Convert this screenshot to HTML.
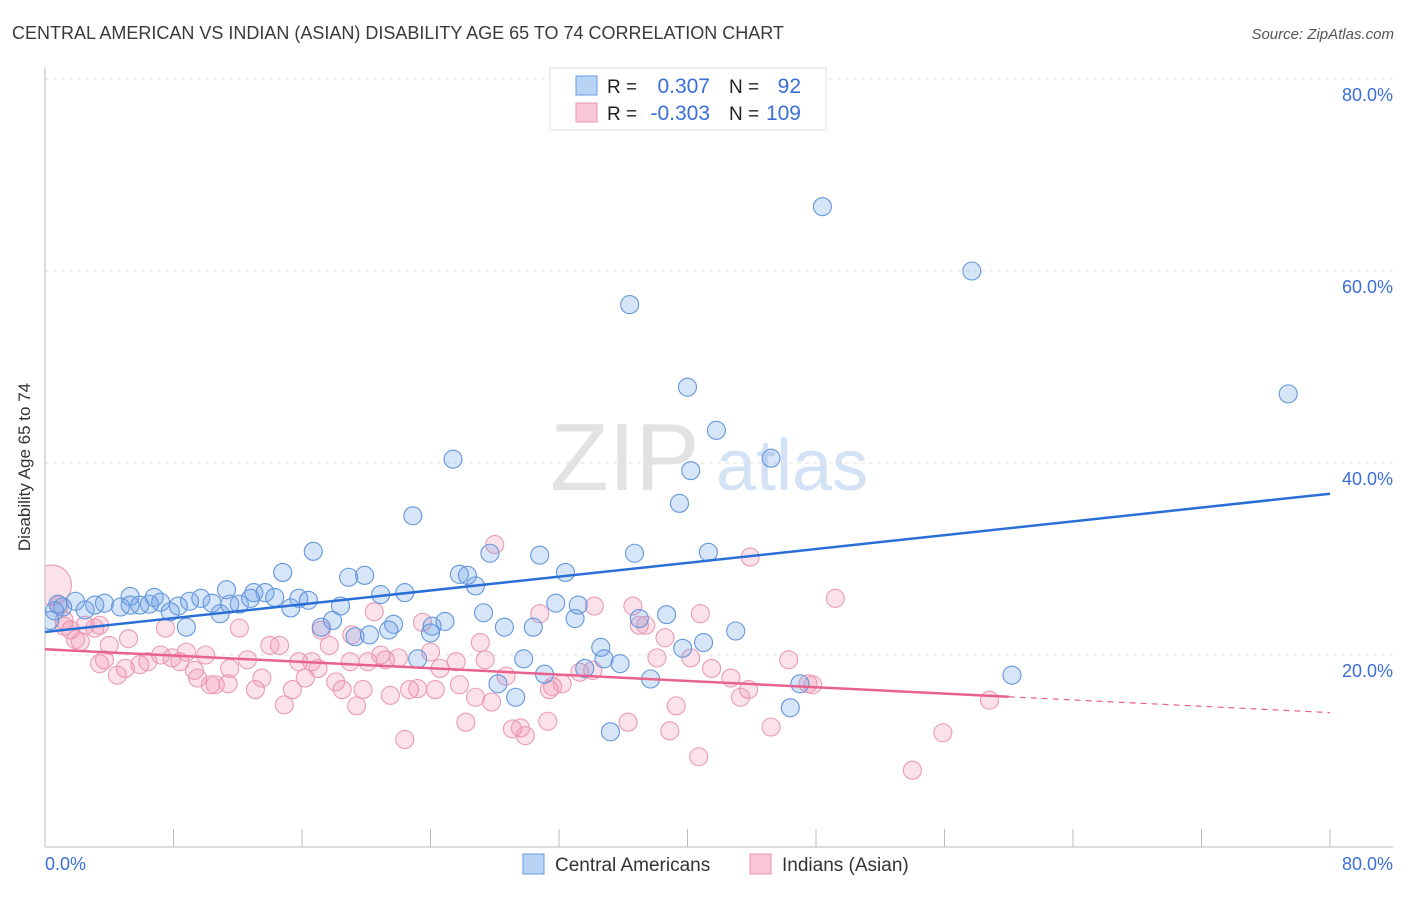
<!DOCTYPE html>
<html><head><meta charset="utf-8"><style>
body{margin:0;background:#fff;font-family:"Liberation Sans",sans-serif;}
svg text{font-family:"Liberation Sans",sans-serif;}
</style></head><body>
<svg id="chart" width="1406" height="892" xmlns="http://www.w3.org/2000/svg">
<defs><clipPath id="plotclip"><rect x="45" y="60" width="1360" height="787"/></clipPath></defs>
<text x="12" y="39" font-size="18" fill="#3a3a3a">CENTRAL AMERICAN VS INDIAN (ASIAN) DISABILITY AGE 65 TO 74 CORRELATION CHART</text>
<text x="1394" y="39" font-size="15" fill="#555" font-style="italic" text-anchor="end">Source: ZipAtlas.com</text>
<g>
<text x="550" y="490" font-size="96" fill="#e2e2e2" font-family="Liberation Serif">ZIP</text>
<text x="716" y="490" font-size="72" fill="#d3e2f4">atlas</text>
</g>
<g id="grid"></g>
<g id="axes"></g>
<g id="pts" clip-path="url(#plotclip)"></g>
<g id="trend"></g>
<text x="18" y="455" font-size="17" fill="#333" transform="rotate(-90 30 455)" text-anchor="middle">Disability Age 65 to 74</text>
<g>
<rect x="550" y="68" width="276" height="62" fill="#fff" stroke="#ddd"/>
<rect x="576" y="76" width="21" height="19" fill="#b9d3f5" stroke="#6a9be0"/>
<rect x="576" y="103" width="21" height="19" fill="#f8c6d5" stroke="#eb94b0"/>
<text x="607" y="93" font-size="19" fill="#222">R =</text><text x="710" y="93" font-size="21" fill="#3a6fd8" text-anchor="end">0.307</text>
<text x="729" y="93" font-size="19" fill="#222">N =</text><text x="801" y="93" font-size="21" fill="#3a6fd8" text-anchor="end">92</text>
<text x="607" y="120" font-size="19" fill="#222">R =</text><text x="710" y="120" font-size="21" fill="#3a6fd8" text-anchor="end">-0.303</text>
<text x="729" y="120" font-size="19" fill="#222">N =</text><text x="801" y="120" font-size="21" fill="#3a6fd8" text-anchor="end">109</text>
</g>
<g>
<rect x="523" y="854" width="21" height="20" fill="#b9d3f5" stroke="#6a9be0"/>
<text x="555" y="871" font-size="19" fill="#333">Central Americans</text>
<rect x="750" y="854" width="21" height="20" fill="#f8c6d5" stroke="#eb94b0"/>
<text x="782" y="871" font-size="19" fill="#333">Indians (Asian)</text>
</g>
</svg>
<script>
const xTicks=[0,8,16,24,32,40,48,56,64,72,80];
const yGrid=[20,40,60,80];
const yLabels=["20.0%","40.0%","60.0%","80.0%"];
const blueX=[48.4,57.7,36.4,77.4,40.0,41.8,25.4,45.2,40.2,39.5,22.9,16.7,27.7,30.8,36.7,41.3,14.8,18.9,19.9,25.8,26.3,26.8,32.4,22.4,20.9,5.3,6.8,11.3,13.0,13.7,14.3,9.7,7.2,9.0,3.7,1.9,0.8,2.5,4.7,5.9,8.3,10.4,12.1,15.8,16.4,18.4,15.3,31.8,33.2,27.3,33.0,38.7,37.0,7.8,10.9,8.8,17.9,17.2,21.7,19.3,20.2,21.4,24.9,24.1,24.0,28.6,30.4,43.0,34.6,41.0,39.7,23.2,29.8,34.8,35.8,33.6,31.1,37.7,60.2,47.0,28.2,29.3,46.4,35.2,0.6,0.3,1.1,3.1,5.3,12.8,11.5,6.5];
const blueY=[66.7,60.0,56.5,47.2,47.9,43.4,40.4,40.5,39.2,35.8,34.5,30.8,30.6,30.4,30.6,30.7,28.6,28.1,28.3,28.4,28.3,27.2,28.6,26.5,26.3,26.1,26.0,26.8,26.5,26.5,26.0,25.9,25.5,25.6,25.4,25.6,25.3,24.7,25.0,25.2,25.1,25.4,25.3,25.9,25.7,25.1,24.9,25.4,25.2,24.4,23.8,24.2,23.8,24.5,24.3,22.9,23.6,22.9,23.2,21.9,22.1,22.6,23.5,23.0,22.3,22.9,22.9,22.5,20.8,21.3,20.7,19.6,19.6,19.6,19.1,18.6,18.0,17.5,17.9,17.0,17.0,15.6,14.5,12.0,24.6,23.6,25.0,25.2,25.2,25.9,25.3,25.3];
const pinkX=[0.4,0.9,1.2,1.6,2.2,2.5,3.1,4.0,5.2,3.4,3.7,4.5,5.0,5.9,6.4,7.5,7.2,7.9,8.4,8.8,9.3,9.5,10.0,10.3,10.6,11.4,11.5,12.1,12.6,13.1,13.5,14.0,14.6,14.9,15.4,15.8,16.2,16.6,17.0,17.2,17.7,18.1,18.5,19.0,19.1,19.4,19.8,20.1,20.5,20.9,21.2,21.5,22.0,22.4,22.7,23.2,23.5,24.0,24.3,24.6,25.6,25.8,26.2,26.8,27.1,27.4,27.8,28.0,28.7,29.1,29.6,29.9,30.8,31.3,31.4,31.6,32.2,33.3,34.1,34.2,36.3,36.6,37.0,37.4,38.1,38.6,38.9,39.3,40.2,40.7,40.8,41.5,42.7,43.3,43.8,43.9,45.2,46.3,47.5,47.8,49.2,54.0,55.9,58.8,1.2,1.9,3.4];
const pinkY=[27.3,25.2,23.6,22.6,21.4,23.1,22.8,21.0,21.7,19.1,19.5,17.9,18.6,19.0,19.3,22.8,20.0,19.7,19.3,20.3,18.4,17.6,20.0,16.9,16.9,17.0,18.6,22.8,19.5,16.4,17.6,21.0,21.0,14.8,16.4,19.3,17.6,19.3,18.6,22.6,21.0,17.2,16.4,19.3,22.1,14.7,16.4,19.3,24.5,20.0,19.5,15.8,19.7,11.2,16.4,16.5,23.4,20.3,16.4,18.6,19.3,16.9,13.0,15.6,21.3,19.5,15.1,31.5,17.8,12.3,12.4,11.6,24.3,13.1,16.4,16.7,17.0,18.2,18.4,25.1,13.0,25.1,23.1,23.1,19.7,21.8,12.1,14.7,19.7,9.4,24.3,18.6,17.6,15.6,16.4,30.2,12.5,19.5,17.0,16.9,25.9,8.0,11.9,15.3,23.0,21.6,23.1];
const blueTrend=[22.4,36.8];
const pinkTrend=[20.6,14.0];
const pinkSolidEnd=60;

const X=v=>45+v/80*1285;
const Y=v=>847-v*9.6;
const NS="http://www.w3.org/2000/svg";
function mk(parent,tag,attrs){const e=document.createElementNS(NS,tag);for(const k in attrs)e.setAttribute(k,attrs[k]);parent.appendChild(e);return e;}
const grid=document.getElementById('grid'),axes=document.getElementById('axes'),pts=document.getElementById('pts'),trend=document.getElementById('trend');
yGrid.forEach((g,i)=>{
  const l=mk(grid,'line',{x1:45,x2:1393,y1:Y(g),y2:Y(g),stroke:'#e2e2e2','stroke-dasharray':'4,4'});
  
  
  const t=mk(axes,'text',{x:1393,y:Y(g)+22,'font-size':18,fill:'#3a6fd8','text-anchor':'end'});
  t.textContent=yLabels[i];
  
  
});
const al=mk(axes,'line',{x1:45,x2:45,y1:68,y2:847,stroke:'#bbb'});


const bl=mk(axes,'line',{x1:45,x2:1393,y1:847,y2:847,stroke:'#bbb'});


xTicks.forEach(v=>{
  const t=mk(axes,'line',{x1:X(v),x2:X(v),y1:829,y2:847,stroke:'#bbb'});
  
  
});
const xl0=mk(axes,'text',{x:45,y:870,'font-size':18,fill:'#3a6fd8'});xl0.textContent=xTicks[0].toFixed(1)+'%';


const xl1=mk(axes,'text',{x:1393,y:870,'font-size':18,fill:'#3a6fd8','text-anchor':'end'});xl1.textContent=xTicks[xTicks.length-1].toFixed(1)+'%';


pinkX.forEach((x,i)=>{
  const c=mk(pts,'circle',{cx:X(x),cy:Y(pinkY[i]),r:i===0?20:9,fill:'rgba(240,140,170,0.25)',stroke:'#ec9ab4','stroke-width':1.1});
  
  
});
blueX.forEach((x,i)=>{
  const c=mk(pts,'circle',{cx:X(x),cy:Y(blueY[i]),r:9,fill:'rgba(110,160,230,0.28)',stroke:'#6396dc','stroke-width':1.1});
  
  
});
const bt=mk(trend,'line',{x1:X(0),y1:Y(blueTrend[0]),x2:X(80),y2:Y(blueTrend[1]),stroke:'#2a6fd6','stroke-width':2.5});


const pm=pinkTrend[0]+(pinkTrend[1]-pinkTrend[0])*pinkSolidEnd/80;
const pt=mk(trend,'line',{x1:X(0),y1:Y(pinkTrend[0]),x2:X(pinkSolidEnd),y2:Y(pm),stroke:'#e8628f','stroke-width':2.5});


const pd=mk(trend,'line',{x1:X(pinkSolidEnd),y1:Y(pm),x2:X(80),y2:Y(pinkTrend[1]),stroke:'#e8628f','stroke-width':1.2,'stroke-dasharray':'6,5'});


</script>
</body></html>
